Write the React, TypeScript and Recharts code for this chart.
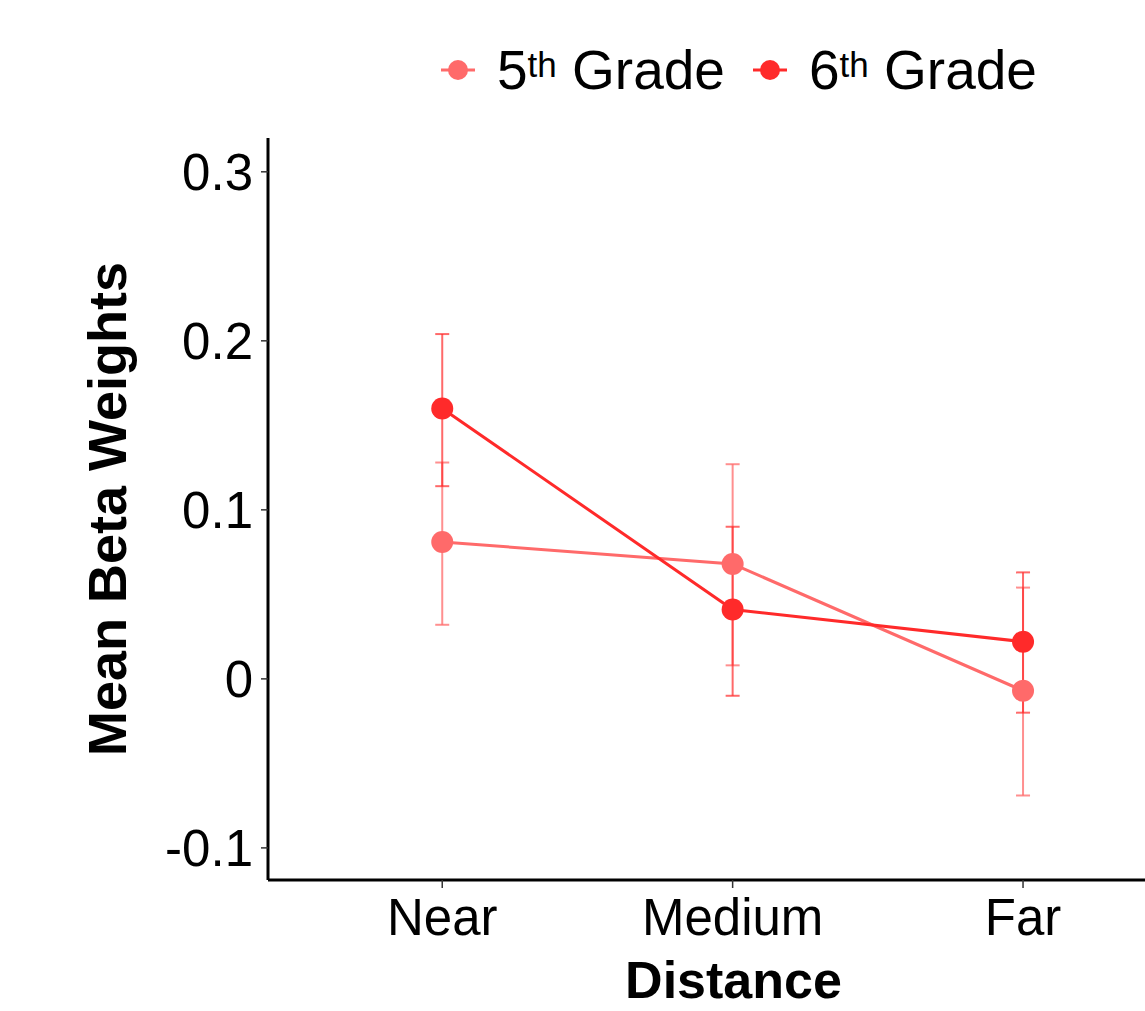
import { LineChart, Line, XAxis, YAxis, ErrorBar, Label } from 'recharts'

const categories = ['Near', 'Medium', 'Far']
const positions = [1, 2, 3]

// means with lower / upper bounds of the error bars
const grade5Mean = [0.081, 0.068, -0.007]
const grade5Low = [0.032, 0.008, -0.069]
const grade5High = [0.128, 0.127, 0.054]

const grade6Mean = [0.160, 0.041, 0.022]
const grade6Low = [0.114, -0.010, -0.020]
const grade6High = [0.204, 0.090, 0.063]

const yTicks = [-0.1, 0, 0.1, 0.2, 0.3]
const yTickLabels = ['-0.1', '0', '0.1', '0.2', '0.3']

const COL5 = '#ff6a6a'
const COL6 = '#ff2a2a'
const FONT = '"Liberation Sans", Arial, sans-serif'

const data = positions.map((p, i) => ({
  pos: p,
  g5: grade5Mean[i],
  g5err: [grade5Mean[i] - grade5Low[i], grade5High[i] - grade5Mean[i]],
  g6: grade6Mean[i],
  g6err: [grade6Mean[i] - grade6Low[i], grade6High[i] - grade6Mean[i]],
}))

function LegendItem({ color, num, gap }: { color: string; num: string; gap: number }) {
  return (
    <div style={{ display: 'flex', alignItems: 'center', marginRight: gap }}>
      <svg width={34} height={24} style={{ marginRight: 22 }}>
        <line x1={0} y1={12} x2={34} y2={12} stroke={color} strokeWidth={3} />
        <circle cx={17} cy={12} r={10} fill={color} />
      </svg>
      <span style={{ fontSize: 55, lineHeight: '62px', whiteSpace: 'nowrap' }}>
        {num}
        <span style={{ fontSize: 35, verticalAlign: 'top', position: 'relative', top: -5 }}>th</span> Grade
      </span>
    </div>
  )
}

export default function App() {
  return (
    <div style={{ position: 'fixed', left: 0, top: 0, width: 1145, height: 1011, overflow: 'hidden', background: '#fff', fontFamily: FONT }}>
      <div style={{ position: 'absolute', left: 441, top: 39, display: 'flex', color: '#000' }}>
        <LegendItem color={COL5} num="5" gap={28} />
        <LegendItem color={COL6} num="6" gap={0} />
      </div>
      <LineChart width={1145} height={1011} data={data} margin={{ top: 138, right: 0, bottom: 0, left: 0 }}>
        <XAxis
          type="number"
          dataKey="pos"
          domain={[0.4, 3.42]}
          ticks={positions}
          tickFormatter={(v: number) => categories[v - 1]}
          height={131}
          axisLine={{ stroke: '#000', strokeWidth: 3 }}
          tickLine={{ stroke: '#333', strokeWidth: 1.5 }}
          tickSize={8}
          tickMargin={11}
          tick={{ fill: '#000', fontSize: 51, fontFamily: FONT }}
          allowDataOverflow
        >
          <Label value="Distance" position="insideBottom" offset={13} dx={27} style={{ fontSize: 52, fontWeight: 700, fill: '#000', fontFamily: FONT }} />
        </XAxis>
        <YAxis
          type="number"
          domain={[-0.119, 0.32]}
          ticks={yTicks}
          tickFormatter={(v: number) => yTickLabels[yTicks.indexOf(v)]}
          width={268}
          axisLine={{ stroke: '#000', strokeWidth: 3 }}
          tickLine={{ stroke: '#333', strokeWidth: 1.5 }}
          tickSize={7}
          tickMargin={8}
          tick={{ fill: '#000', fontSize: 51, fontFamily: FONT }}
          allowDataOverflow
        >
          <Label
            content={({ viewBox }: any) => (
              <text
                x={viewBox.x + 107}
                y={viewBox.y + viewBox.height / 2}
                transform={`rotate(-90, ${viewBox.x + 107}, ${viewBox.y + viewBox.height / 2})`}
                textAnchor="middle"
                dominantBaseline="central"
                style={{ fontSize: 54, fontWeight: 700, fill: '#000', fontFamily: FONT }}
              >
                Mean Beta Weights
              </text>
            )}
          />
        </YAxis>
        <Line dataKey="g5" stroke={COL5} strokeWidth={3} isAnimationActive={false}
          dot={{ r: 11, fill: COL5, stroke: 'none' }} activeDot={false}>
          <ErrorBar dataKey="g5err" direction="y" width={7} stroke={COL5} strokeWidth={2} strokeOpacity={0.75} />
        </Line>
        <Line dataKey="g6" stroke={COL6} strokeWidth={3} isAnimationActive={false}
          dot={{ r: 11, fill: COL6, stroke: 'none' }} activeDot={false}>
          <ErrorBar dataKey="g6err" direction="y" width={7} stroke={COL6} strokeWidth={2} strokeOpacity={0.7} />
        </Line>
      </LineChart>
    </div>
  )
}
